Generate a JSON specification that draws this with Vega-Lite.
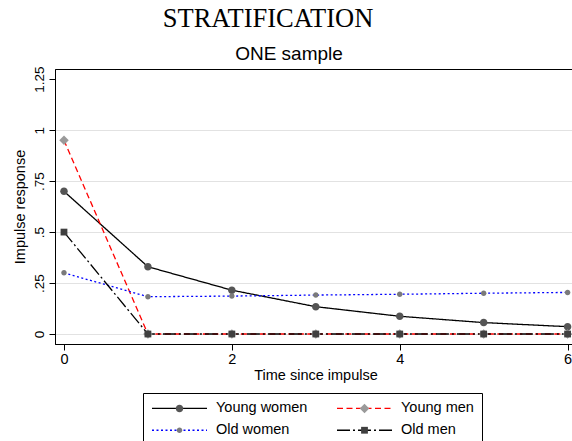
{
  "$schema": "https://vega.github.io/schema/vega-lite/v6.json",
  "autosize": "none",
  "width": 521,
  "height": 275,
  "padding": {"left": 55, "top": 69, "right": 0, "bottom": 97},
  "background": "white",
  "config": {
    "view": {"stroke": "black", "strokeWidth": 1},
    "axis": {
      "domainColor": "black",
      "tickColor": "black",
      "labelColor": "black",
      "titleColor": "black",
      "labelFont": "Liberation Sans",
      "titleFont": "Liberation Sans",
      "titleFontWeight": "normal",
      "labelFontSize": 14.5,
      "titleFontSize": 14.5,
      "tickSize": 6,
      "tickWidth": 1
    },
    "legend": {"labelFont": "Liberation Sans", "labelColor": "black"}
  },
  "data": {
    "values": [
      {"series": "Young women", "t": 0, "v": 0.70},
      {"series": "Young women", "t": 1, "v": 0.33},
      {"series": "Young women", "t": 2, "v": 0.215},
      {"series": "Young women", "t": 3, "v": 0.134},
      {"series": "Young women", "t": 4, "v": 0.087},
      {"series": "Young women", "t": 5, "v": 0.056},
      {"series": "Young women", "t": 6, "v": 0.036},
      {"series": "Young men", "t": 0, "v": 0.95},
      {"series": "Young men", "t": 1, "v": 0},
      {"series": "Young men", "t": 2, "v": 0},
      {"series": "Young men", "t": 3, "v": 0},
      {"series": "Young men", "t": 4, "v": 0},
      {"series": "Young men", "t": 5, "v": 0},
      {"series": "Young men", "t": 6, "v": 0},
      {"series": "Old women", "t": 0, "v": 0.30},
      {"series": "Old women", "t": 1, "v": 0.183},
      {"series": "Old women", "t": 2, "v": 0.186},
      {"series": "Old women", "t": 3, "v": 0.191},
      {"series": "Old women", "t": 4, "v": 0.195},
      {"series": "Old women", "t": 5, "v": 0.200},
      {"series": "Old women", "t": 6, "v": 0.204},
      {"series": "Old men", "t": 0, "v": 0.50},
      {"series": "Old men", "t": 1, "v": 0},
      {"series": "Old men", "t": 2, "v": 0},
      {"series": "Old men", "t": 3, "v": 0},
      {"series": "Old men", "t": 4, "v": 0},
      {"series": "Old men", "t": 5, "v": 0},
      {"series": "Old men", "t": 6, "v": 0}
    ]
  },
  "resolve": {"axis": {"x": "independent", "y": "independent"}},
  "layer": [
    {
      "mark": {"type": "line", "strokeWidth": 1.3},
      "encoding": {
        "x": {
          "field": "t", "type": "quantitative",
          "scale": {"domain": [-0.107, 6.1], "nice": false, "zero": false},
          "axis": {"orient": "bottom", "values": [0, 2, 4, 6], "title": "Time since impulse", "grid": false, "labelPadding": 2, "titlePadding": 3}
        },
        "y": {
          "field": "v", "type": "quantitative",
          "scale": {"domain": [-0.049, 1.3], "nice": false, "zero": false},
          "axis": {
            "orient": "left",
            "values": [0, 0.25, 0.5, 0.75, 1, 1.25],
            "labelExpr": "datum.value == 0 ? '0' : replace(format(datum.value, '~g'), regexp('^0'), '')",
            "labelAngle": -90, "labelAlign": "center", "labelBaseline": "bottom",
            "labelFontSize": 13.5, "labelPadding": 3,
            "title": "Impulse response", "titleX": -30.5, "titleBaseline": "alphabetic",
            "grid": true, "gridColor": "#e2e2e2", "gridWidth": 1,
            "gridOpacity": {"condition": {"test": "datum.value > 1.1", "value": 0}, "value": 1}
          }
        },
        "stroke": {
          "field": "series", "type": "nominal",
          "scale": {"domain": ["Young women", "Young men", "Old women", "Old men"], "range": ["#000000", "#ff0000", "#0000ff", "#000000"]},
          "legend": {"orient": "none", "direction": "horizontal", "legendX": 88, "legendY": 324, "columns": 2, "columnPadding": 26, "rowPadding": 7, "padding": 8, "strokeColor": "black", "fillColor": "white", "title": null, "symbolType": "M-5.5,0H5.5", "symbolSize": 100, "symbolStrokeWidth": 1.3, "symbolFillColor": "transparent", "symbolOffset": 21.25, "labelFontSize": 14.5, "labelOffset": 29.25, "zindex": 0}
        },
        "strokeDash": {
          "field": "series", "type": "nominal",
          "scale": {"domain": ["Young women", "Young men", "Old women", "Old men"], "range": [[1, 0], [6, 3.5], [2, 2.5], [13, 3, 2, 3]]},
          "legend": {"orient": "none", "direction": "horizontal", "legendX": 88, "legendY": 324, "columns": 2, "columnPadding": 26, "rowPadding": 7, "padding": 8, "strokeColor": "black", "fillColor": "white", "title": null, "symbolType": "M-5.5,0H5.5", "symbolSize": 100, "symbolStrokeWidth": 1.3, "symbolFillColor": "transparent", "symbolOffset": 21.25, "labelFontSize": 14.5, "labelOffset": 29.25, "zindex": 0}
        }
      }
    },
    {
      "mark": {"type": "point", "filled": true, "opacity": 1, "size": 100},
      "encoding": {
        "x": {
          "field": "t", "type": "quantitative",
          "axis": {"orient": "top", "labels": false, "ticks": false, "domain": false, "grid": false, "title": "ONE sample", "titleFontSize": 19, "titleX": 233.5, "titleY": -9.7, "titleAlign": "center", "titleBaseline": "alphabetic", "titleAngle": 0}
        },
        "y": {
          "field": "v", "type": "quantitative",
          "axis": {"orient": "right", "labels": false, "ticks": false, "domain": false, "grid": false, "title": "STRATIFICATION", "titleFont": "Liberation Serif", "titleFontSize": 26.5, "titleAngle": 0, "titleX": -308.5, "titleY": -42.3, "titleAlign": "center", "titleBaseline": "alphabetic"}
        },
        "fill": {
          "field": "series", "type": "nominal",
          "scale": {"domain": ["Young women", "Young men", "Old women", "Old men", "-"], "range": ["#555555", "#9a9a9a", "#7a7a7a", "#404040", "#000000"]},
          "legend": {"orient": "none", "direction": "horizontal", "values": ["Young women", "Young men", "Old women", "Old men"], "legendX": 88, "legendY": 324, "columns": 2, "columnPadding": 120, "rowPadding": 7, "padding": 8, "title": null, "symbolSize": 100, "symbolStrokeWidth": 0, "symbolOffset": 21.25, "labelFontSize": 14.5, "labelOffset": 29.25, "labelExpr": "''", "zindex": 1}
        },
        "shape": {
          "field": "series", "type": "nominal",
          "scale": {"domain": ["Young women", "Young men", "Old women", "Old men", "-"], "range": [
            "M0.75,0A0.75,0.75,0,1,1,-0.75,0A0.75,0.75,0,1,1,0.75,0Z",
            "M0,-0.95L0.95,0L0,0.95L-0.95,0Z",
            "M0.55,0A0.55,0.55,0,1,1,-0.55,0A0.55,0.55,0,1,1,0.55,0Z",
            "M-0.68,-0.68H0.68V0.68H-0.68Z",
            "circle"
          ]},
          "legend": {"orient": "none", "direction": "horizontal", "values": ["Young women", "Young men", "Old women", "Old men"], "legendX": 88, "legendY": 324, "columns": 2, "columnPadding": 120, "rowPadding": 7, "padding": 8, "title": null, "symbolSize": 100, "symbolStrokeWidth": 0, "symbolOffset": 21.25, "labelFontSize": 14.5, "labelOffset": 29.25, "labelExpr": "''", "zindex": 1}
        }
      }
    }
  ]
}
